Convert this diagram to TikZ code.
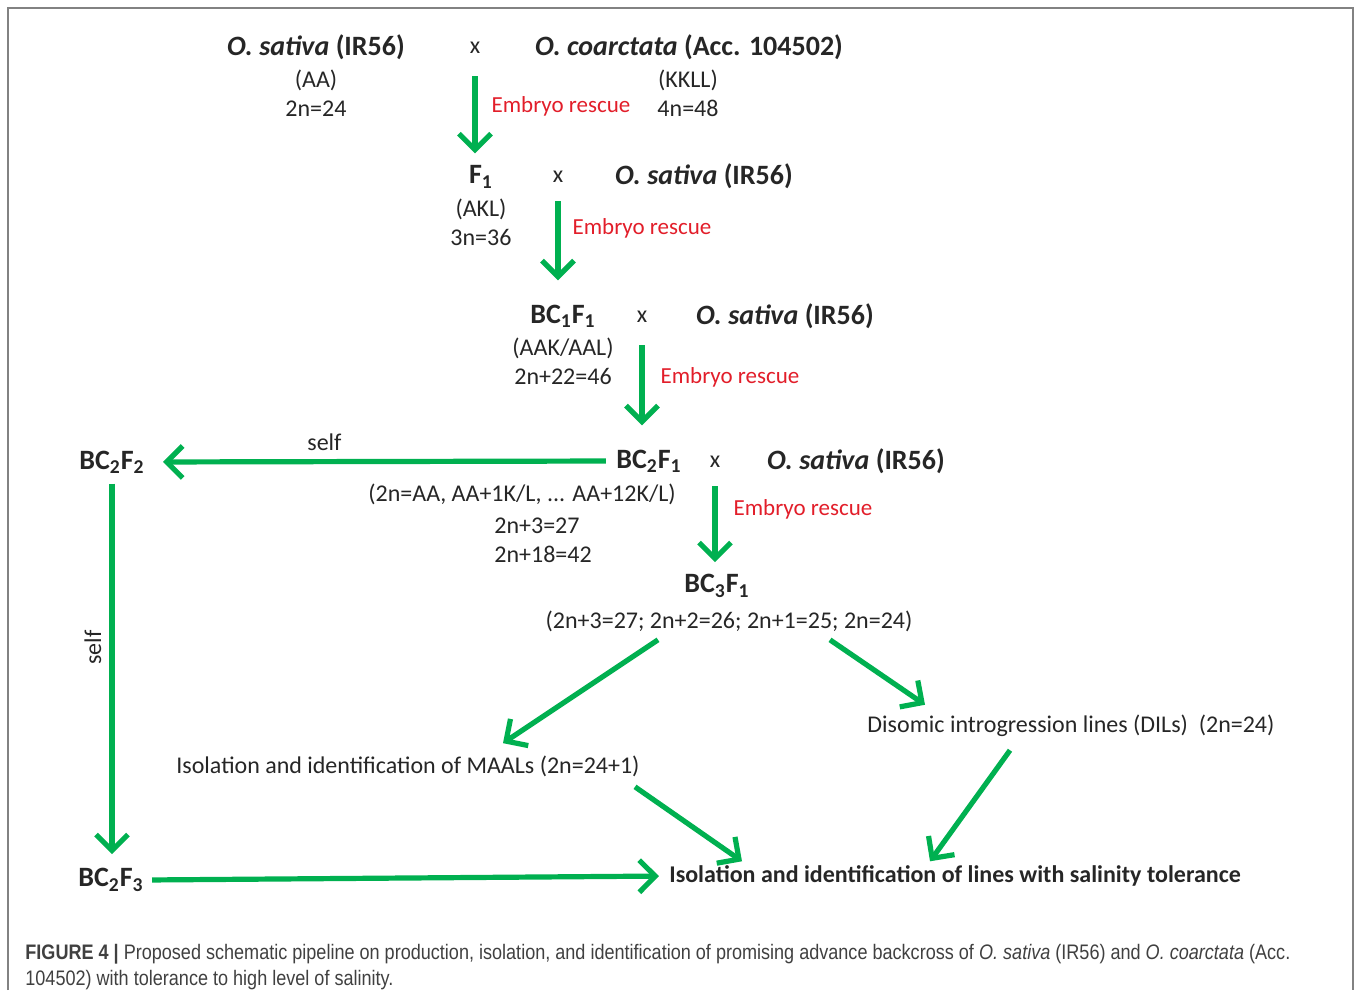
\documentclass[tikz,border=0pt]{standalone}
\usepackage{fontspec}
\setmainfont{Carlito}
\newfontfamily\capfont[FakeStretch=0.86]{Liberation Sans}
\usetikzlibrary{arrows.meta,calc}
\definecolor{arrowgreen}{RGB}{0,176,80}
\definecolor{rescuered}{RGB}{226,30,42}
\definecolor{framegray}{RGB}{130,130,130}

\begin{document}
\begin{tikzpicture}[x=0.5pt,y=-0.5pt,
  every node/.style={text=black!85,inner sep=1pt},
  gen/.style={font=\fontsize{14}{17}\selectfont\bfseries},
  sub/.style={font=\fontsize{12}{14.5}\selectfont,align=center},
  crossmark/.style={font=\fontsize{12}{14}\selectfont},
  rescue/.style={font=\fontsize{11.5}{14}\selectfont,text=rescuered,inner sep=0pt},
  breed/.style={-{Straight Barb[length=8pt,width=16pt]},draw=arrowgreen,line width=2.6pt}]
\useasboundingbox (0,0) rectangle (1358,990);
\draw[framegray,line width=0.8pt] (8,990) -- (8,8) -- (1353,8) -- (1353,990);

\begin{scope}
% parents
\node[gen] (sat0) at (316,47) {\textit{O. sativa} (IR56)};
\node[sub] (sat0g) at (316,93) {(AA)\\2n=24};
\node[crossmark] (x0) at (475,48) {x};
\node[gen] (coa) at (689,47) {\textit{O. coarctata} (Acc. 104502)};
\node[sub] (coag) at (688,93) {(KKLL)\\4n=48};

% backcross generations
\node[gen] (f1) at (481,177) {F\textsubscript{1}};
\node[sub] (f1g) at (481,222) {(AKL)\\3n=36};
\node[crossmark] (x1) at (558,177) {x};
\node[gen] (sat1) at (704,176) {\textit{O. sativa} (IR56)};

\node[gen] (bc1f1) at (563,316) {BC\textsubscript{1}F\textsubscript{1}};
\node[sub] (bc1f1g) at (563,361) {(AAK/AAL)\\2n+22=46};
\node[crossmark] (x2) at (642,317) {x};
\node[gen] (sat2) at (785,316) {\textit{O. sativa} (IR56)};

\node[gen] (bc2f1) at (649,461) {BC\textsubscript{2}F\textsubscript{1}};
\node[sub] (bc2f1g) at (522,494) {(2n=AA, AA+1K/L, ... AA+12K/L)};
\node[sub,align=left,anchor=west] (bc2f1n) at (492,540) {2n+3=27\\2n+18=42};
\node[crossmark] (x3) at (715,462) {x};
\node[gen] (sat3) at (856,461) {\textit{O. sativa} (IR56)};

\node[gen] (bc3f1) at (717,586) {BC\textsubscript{3}F\textsubscript{1}};
\node[sub] (bc3f1g) at (729,621) {(2n+3=27; 2n+2=26; 2n+1=25; 2n=24)};

\node[gen] (bc2f2) at (112,462) {BC\textsubscript{2}F\textsubscript{2}};
\node[gen] (bc2f3) at (111,880) {BC\textsubscript{2}F\textsubscript{3}};

% lines
\node[sub] (maal) at (408,766) {Isolation and identification of MAALs (2n=24+1)};
\node[sub] (dil) at (1071,726) {Disomic introgression lines (DILs)\ \ (2n=24)};
\node[font=\fontsize{12}{14}\selectfont\bfseries] (final) at (955,876) {Isolation and identification of lines with salinity tolerance};

\draw[breed,shorten <=10pt,shorten >=5pt] (x0.south) -- node[rescue,pos=0.47,right=7pt]{Embryo rescue} (x0.south |- f1.north);
\draw[breed,shorten <=8pt,shorten >=11pt] (x1.south) -- node[rescue,pos=0.37,right=6pt]{Embryo rescue} (x1.south |- bc1f1.north);
\draw[breed,shorten <=10pt,shorten >=11pt] (x2.south) -- node[rescue,pos=0.43,right=8pt]{Embryo rescue} (x2.south |- bc2f1.north);
\draw[breed,shorten <=8pt,shorten >=5pt] (x3.south) -- node[rescue,pos=0.38,right=8pt]{Embryo rescue} (x3.south |- bc3f1.north);

\draw[breed,shorten <=4pt,shorten >=8pt] (bc2f1.west) -- node[crossmark,pos=0.62,above=3pt]{self} (bc2f2.east);
\draw[breed,shorten <=4pt,shorten >=6pt] (bc2f2.south) -- node[crossmark,pos=0.44,rotate=90,anchor=south,inner sep=4pt]{self} (bc2f2.south |- bc2f3.north);
\draw[breed,shorten <=3pt,shorten >=4pt] (bc2f3.east) -- (final.west);

\draw[breed] ($(bc3f1g.south)+(-71,6)$) -- ($(maal.north)+(95,-10)$);
\draw[breed] ($(bc3f1g.south)+(101,6)$) -- ($(dil.north)+(-146,-8)$);
\draw[breed] ($(maal.south)+(227,8)$) -- ($(final.north)+(-213,-2)$);
\draw[breed] ($(dil.south)+(-61,11)$) -- ($(final.north)+(-25,-2)$);
\end{scope}

\node[anchor=base west,align=left,inner sep=0pt,text=black!75,font=\capfont\fontsize{10.5}{13}\selectfont] (caption) at (25,985)
  {\textbf{FIGURE 4 |} Proposed schematic pipeline on production, isolation, and identification of promising advance backcross of \textit{O. sativa} (IR56) and \textit{O. coarctata} (Acc.\\104502) with tolerance to high level of salinity.};
\end{tikzpicture}
\end{document}
